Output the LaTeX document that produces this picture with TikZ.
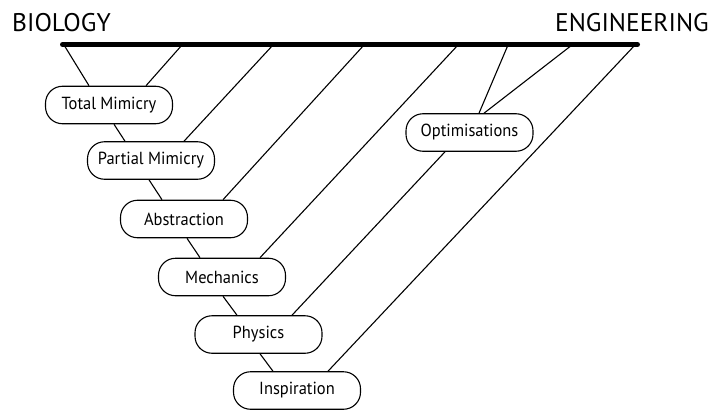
\documentclass[tikz,border=0pt]{standalone}
\usepackage{fontspec}
\setmainfont{PT Sans}
\newfontfamily\stagefont[FakeStretch=0.94]{PT Sans}
\usetikzlibrary{calc}
\begin{document}
\begin{tikzpicture}[x=1pt,y=-1pt,
  stage/.style={draw,line width=1.1pt,rounded corners=17pt,minimum width=127pt,minimum height=37.5pt,inner sep=0pt,font=\stagefont\fontsize{17.5}{19}\selectfont},
  link/.style={line width=1.1pt},
  head/.style={font=\fontsize{25.5}{28}\selectfont,inner sep=0pt,anchor=base}]
\useasboundingbox (0,0) rectangle (727,409);
\node[head,anchor=base west] (bio) at (12,32) {BIOLOGY};
\node[head,anchor=base east] (eng) at (709,32) {ENGINEERING};
\coordinate (bl) at (62.5,44.5);
\coordinate (br) at (637.5,44.5);
\draw[line width=5pt,line cap=round] (bl) -- (br);
\foreach \n/\x in {b1/64,b2/182,b3/273,b4/364,b5/458,b6/508,b7/572,b8/635}
  \coordinate (\n) at (\x,45);
\node[stage] (tm) at (109,105) {Total Mimicry};
\node[stage] (pm) at (151,160.5) {Partial Mimicry};
\node[stage] (ab) at (184,219) {Abstraction};
\node[stage] (me) at (222,277) {Mechanics};
\node[stage] (ph) at (258.5,334.5) {Physics};
\node[stage] (in) at (297,390.5) {Inspiration};
\node[stage] (op) at (469.5,132.5) {Optimisations};
\draw[link] (b1) -- ($(tm.north)+(-20,0)$);
\draw[link] (b2) -- ($(tm.north)+(37,0)$);
\draw[link] ($(tm.south)+(5,0)$) -- ($(pm.north)+(-26,0)$);
\draw[link] (b3) -- ($(pm.north)+(33,0)$);
\draw[link] ($(pm.south)+(-2,0)$) -- ($(ab.north)+(-22,0)$);
\draw[link] (b4) -- ($(ab.north)+(39,0)$);
\draw[link] ($(ab.south)+(3,0)$) -- ($(me.north)+(-22,0)$);
\draw[link] (b5) -- ($(me.north)+(38,0)$);
\draw[link] ($(me.south)+(1,0)$) -- ($(ph.north)+(-21.5,0)$);
\draw[link] ($(op.south)+(-24.5,0)$) -- ($(ph.north)+(33.5,0)$);
\draw[link] ($(ph.south)+(1.5,0)$) -- ($(in.north)+(-24,0)$);
\draw[link] (b8) -- ($(in.north)+(31,0)$);
\draw[link] (b6) -- ($(op.north)+(9.5,0)$);
\draw[link] (b7) -- ($(op.north)+(14.5,0)$);
\end{tikzpicture}
\end{document}
